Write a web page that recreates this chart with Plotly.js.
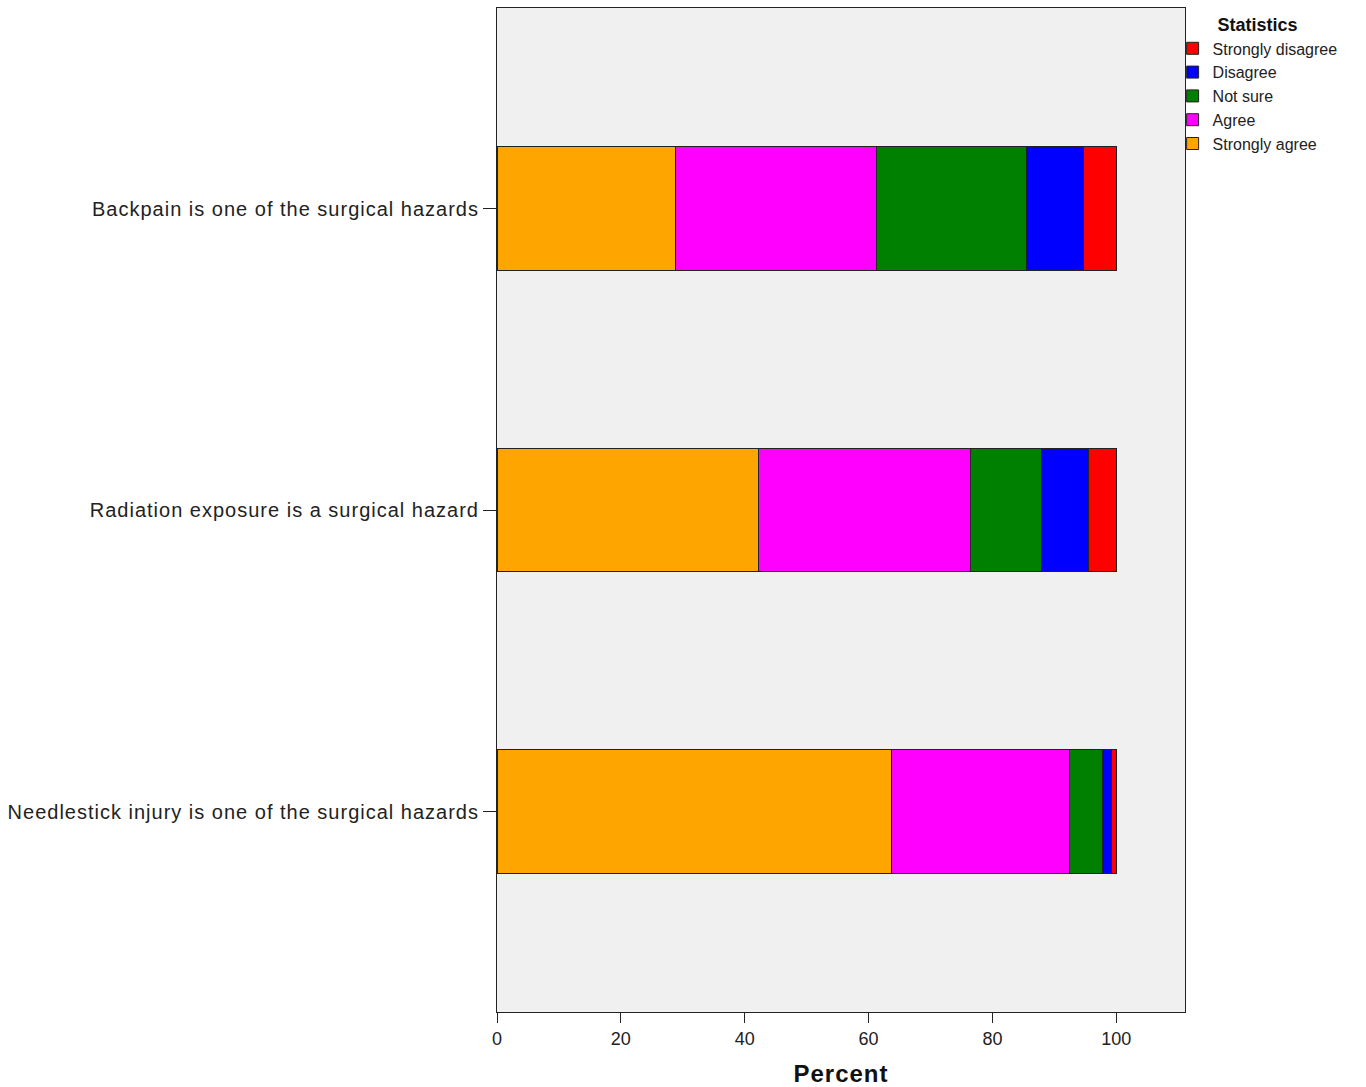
<!DOCTYPE html>
<html>
<head>
<meta charset="utf-8">
<script src="https://cdn.plot.ly/plotly-3.0.1.min.js"></script>
<style>
html,body{margin:0;padding:0;background:#fff;}
#chart{width:1366px;height:1087px;}
#chart .ytick text{letter-spacing:1px;}
#chart .xtitle{letter-spacing:1px;}
</style>
</head>
<body>
<div id="chart"></div>
<script>
const categories = [
  "Backpain is one of the surgical hazards",
  "Radiation exposure is a surgical hazard",
  "Needlestick injury is one of the surgical hazards"
];
const seriesNames = ["Strongly agree", "Agree", "Not sure", "Disagree", "Strongly disagree"];
const stronglyAgree = [28.9, 42.3, 63.7];
const agree = [32.4, 34.1, 28.8];
const notSure = [24.2, 11.5, 5.2];
const disagree = [9.2, 7.6, 1.6];
const stronglyDisagree = [5.3, 4.5, 0.7];
const xTicks = [0, 20, 40, 60, 80, 100];
const colors = ["#FFA500", "#FF00FF", "#008000", "#0000FF", "#FF0000"];

const values = [stronglyAgree, agree, notSure, disagree, stronglyDisagree];
const traces = values.map((v, i) => ({
  type: "bar",
  orientation: "h",
  name: seriesNames[i],
  x: v,
  y: categories,
  width: 0.41,
  marker: { color: colors[i], line: { color: "#222", width: 1 } },
  hoverinfo: "x+name"
}));

const layout = {
  width: 1366,
  height: 1087,
  barmode: "stack",
  paper_bgcolor: "#ffffff",
  plot_bgcolor: "#F0F0F0",
  margin: { l: 497, r: 181, t: 8, b: 75, autoexpand: false },
  font: { family: "Liberation Sans, Arial, sans-serif", color: "#222" },
  xaxis: {
    range: [0, 111.1],
    tickvals: xTicks,
    ticktext: xTicks.map(String),
    ticks: "outside",
    ticklen: 10,
    tickcolor: "#222",
    showgrid: false,
    zeroline: false,
    showline: true,
    linecolor: "#222",
    linewidth: 1,
    mirror: true,
    tickfont: { size: 18, color: "#222" },
    title: { text: "<b>Percent</b>", font: { size: 24, color: "#111" }, standoff: 22 }
  },
  yaxis: {
    type: "category",
    categoryorder: "array",
    categoryarray: categories,
    range: [2.665, -0.665],
    ticks: "outside",
    ticklen: 13,
    tickcolor: "#222",
    showgrid: false,
    zeroline: false,
    showline: true,
    linecolor: "#222",
    linewidth: 1,
    mirror: true,
    tickfont: { size: 20, color: "#222" }
  },
  legend: {
    x: 0.982,
    xanchor: "left",
    y: 1.0,
    yanchor: "top",
    traceorder: "reversed",
    bgcolor: "rgba(0,0,0,0)",
    font: { size: 16, color: "#222" },
    tracegroupgap: 0,
    itemwidth: 30,
    title: { text: "<b>Statistics</b>", side: "top center", font: { size: 18, color: "#111" } }
  },
  showlegend: true
};

Plotly.newPlot("chart", traces, layout, { displayModeBar: false, staticPlot: true });
</script>
</body>
</html>
